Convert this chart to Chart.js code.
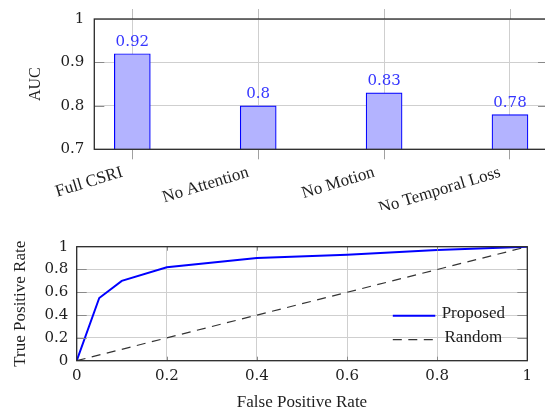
<!DOCTYPE html>
<html>
<head>
<meta charset="utf-8">
<script src="https://cdn.jsdelivr.net/npm/chart.js@4.4.1/dist/chart.umd.min.js"></script>
<style>
  html, body { margin: 0; padding: 0; background: #ffffff; overflow: hidden; width: 545px; height: 413px; }
  #top { position: absolute; left: 0; top: 0; }
  #bottom { position: absolute; left: 0; top: 225px; }
</style>
</head>
<body>
<canvas id="top" width="600" height="210"></canvas>
<canvas id="bottom" width="545" height="188"></canvas>
<script>
// ---- data ----
const categories = ['Full CSRI', 'No Attention', 'No Motion', 'No Temporal Loss'];
const aucValues = [0.92, 0.8, 0.83, 0.78];
const aucTicks = [0.7, 0.8, 0.9, 1];

const rocFpr = [0, 0.05, 0.1, 0.2, 0.4, 0.6, 0.8, 1];
const rocTpr = [0, 0.55, 0.7, 0.82, 0.9, 0.93, 0.97, 1];
const randomFpr = [0, 1];
const randomTpr = [0, 1];
const rateTicks = [0, 0.2, 0.4, 0.6, 0.8, 1];

// ---- styles ----
const gridColor = '#cfcfcf';
const textColor = '#1e1e1e';
const numFont = { family: 'DejaVu Serif', size: 15 };
const wordFont = { family: 'Liberation Serif', size: 17 };

function seg(ctx, x1, y1, x2, y2) { ctx.beginPath(); ctx.moveTo(x1, y1); ctx.lineTo(x2, y2); ctx.stroke(); }

const frame = {
  id: 'frame',
  afterDraw(chart, args, o) {
    const { ctx, chartArea: a } = chart;
    const xs = chart.scales.x, ys = chart.scales.y;
    ctx.save();
    ctx.lineWidth = 1;
    if (o.outerTop) {
      ctx.strokeStyle = o.outerColor;
      xs.ticks.forEach(t => {
        const p = Math.round(xs.getPixelForValue(t.value)) + 0.5;
        seg(ctx, p, a.top - o.outerTop, p, a.top);
      });
    }
    ctx.strokeStyle = o.tickColor;
    ys.ticks.forEach(t => {
      const p = Math.round(ys.getPixelForValue(t.value)) + 0.5;
      if (p < a.top + 1 || p > a.bottom - 1) return;
      seg(ctx, a.left, p, a.left + o.hTick, p);
      seg(ctx, a.right - o.hTick, p, a.right, p);
    });
    if (o.vTick) {
      xs.ticks.forEach(t => {
        const p = Math.round(xs.getPixelForValue(t.value)) + 0.5;
        if (p < a.left + 1 || p > a.right - 1) return;
        seg(ctx, p, a.bottom, p, a.bottom - o.vTick);
        seg(ctx, p, a.top, p, a.top + o.vTick);
      });
    }
    ctx.strokeStyle = '#2a2a2a';
    ctx.lineWidth = 1.3;
    ctx.strokeRect(a.left, a.top, a.right - a.left, a.bottom - a.top);
    ctx.restore();
  }
};

const barValueLabels = {
  id: 'barValueLabels',
  afterDatasetsDraw(chart) {
    const { ctx } = chart;
    const meta = chart.getDatasetMeta(0);
    ctx.save();
    ctx.font = numFont.size + 'px "' + numFont.family + '"';
    ctx.fillStyle = '#3535ff';
    ctx.textAlign = 'center';
    ctx.textBaseline = 'alphabetic';
    meta.data.forEach((bar, i) => {
      ctx.fillText(String(chart.data.datasets[0].data[i].y), bar.x, bar.y - 8);
    });
    ctx.restore();
  }
};

const innerLegend = {
  id: 'innerLegend',
  afterDraw(chart) {
    const { ctx, chartArea: a } = chart;
    ctx.save();
    ctx.font = wordFont.size + 'px "' + wordFont.family + '"';
    ctx.fillStyle = textColor;
    ctx.textAlign = 'center';
    ctx.textBaseline = 'middle';
    chart.data.datasets.forEach((ds, i) => {
      const y = a.top + 68.5 + i * 24;
      ctx.strokeStyle = ds.borderColor;
      ctx.lineWidth = ds.borderWidth;
      ctx.setLineDash(ds.borderDash || []);
      seg(ctx, a.right - 134.5, y + 0.5, a.right - 92, y + 0.5);
      ctx.setLineDash([]);
      ctx.fillText(ds.label, a.right - 54, y - 2);
    });
    ctx.restore();
  }
};

// ---- top: AUC bar chart ----
const xPad = 0.302;
new Chart(document.getElementById('top'), {
  type: 'bar',
  data: {
    datasets: [{
      label: 'AUC',
      data: categories.map((c, i) => ({ x: i, y: aucValues[i] })),
      backgroundColor: '#b3b3ff',
      borderColor: '#0000ff',
      borderWidth: 1.2,
      barThickness: 36
    }]
  },
  options: {
    responsive: false,
    animation: false,
    events: [],
    layout: { padding: { left: 0, right: 52, top: 16.7, bottom: 0 } },
    plugins: {
      legend: { display: false },
      tooltip: { enabled: false },
      frame: { hTick: 10, vTick: 0, outerTop: 10, outerColor: '#bdbdbd', tickColor: '#8a8a8a' }
    },
    scales: {
      x: {
        type: 'linear',
        offset: false,
        min: -xPad,
        max: categories.length - 1 + xPad,
        afterBuildTicks: s => { s.ticks = categories.map((c, i) => ({ value: i })); },
        afterFit: s => { s.height = 60.7; },
        border: { display: false },
        grid: { offset: false, color: gridColor, tickColor: '#a0a0a0', tickLength: 10, drawTicks: true },
        ticks: {
          callback: v => categories[v],
          minRotation: 17, maxRotation: 17, autoSkip: false,
          font: wordFont, color: textColor, padding: 3, labelOffset: -10
        }
      },
      y: {
        min: aucTicks[0],
        max: aucTicks[aucTicks.length - 1],
        afterBuildTicks: s => { s.ticks = aucTicks.map(v => ({ value: v })); },
        afterFit: s => { s.width = 94.3; },
        border: { display: false },
        grid: { color: gridColor, drawTicks: false },
        ticks: { callback: v => String(v), font: numFont, color: textColor, padding: 10 },
        title: { display: true, text: 'AUC', font: { family: 'Liberation Serif', size: 16 }, color: textColor, padding: { top: 26, bottom: 0 } }
      }
    }
  },
  plugins: [frame, barValueLabels]
});

// ---- bottom: ROC curve ----
new Chart(document.getElementById('bottom'), {
  type: 'scatter',
  data: {
    datasets: [
      {
        label: 'Proposed',
        data: rocFpr.map((x, i) => ({ x: x, y: rocTpr[i] })),
        showLine: true, borderColor: '#0000ff', borderWidth: 2,
        pointRadius: 0, tension: 0, fill: false
      },
      {
        label: 'Random',
        data: randomFpr.map((x, i) => ({ x: x, y: randomTpr[i] })),
        showLine: true, borderColor: '#333333', borderWidth: 1.2, borderDash: [9, 6.5],
        pointRadius: 0, tension: 0, fill: false
      }
    ]
  },
  options: {
    responsive: false,
    animation: false,
    events: [],
    layout: { padding: { left: 0, right: 17.7, top: 21.7, bottom: 0 } },
    plugins: {
      legend: { display: false },
      tooltip: { enabled: false },
      frame: { hTick: 10, vTick: 4, outerTop: 0, tickColor: '#8a8a8a' }
    },
    scales: {
      x: {
        type: 'linear', min: 0, max: 1,
        afterBuildTicks: s => { s.ticks = rateTicks.map(v => ({ value: v })); },
        afterFit: s => { s.height = 52.3; },
        border: { display: false },
        grid: { color: gridColor, drawTicks: false },
        ticks: { callback: v => String(v), font: numFont, color: textColor, padding: 6, maxRotation: 0 },
        title: { display: true, text: 'False Positive Rate', font: wordFont, color: textColor, padding: { top: 0, bottom: 0 } }
      },
      y: {
        min: 0, max: 1,
        afterBuildTicks: s => { s.ticks = rateTicks.map(v => ({ value: v })); },
        afterFit: s => { s.width = 76.7; },
        border: { display: false },
        grid: { color: gridColor, drawTicks: false },
        ticks: { callback: v => String(v), font: numFont, color: textColor, padding: 8.4 },
        title: { display: true, text: 'True Positive Rate', font: wordFont, color: textColor, padding: { top: 10.5, bottom: 0 } }
      }
    }
  },
  plugins: [frame, innerLegend]
});
</script>
</body>
</html>
